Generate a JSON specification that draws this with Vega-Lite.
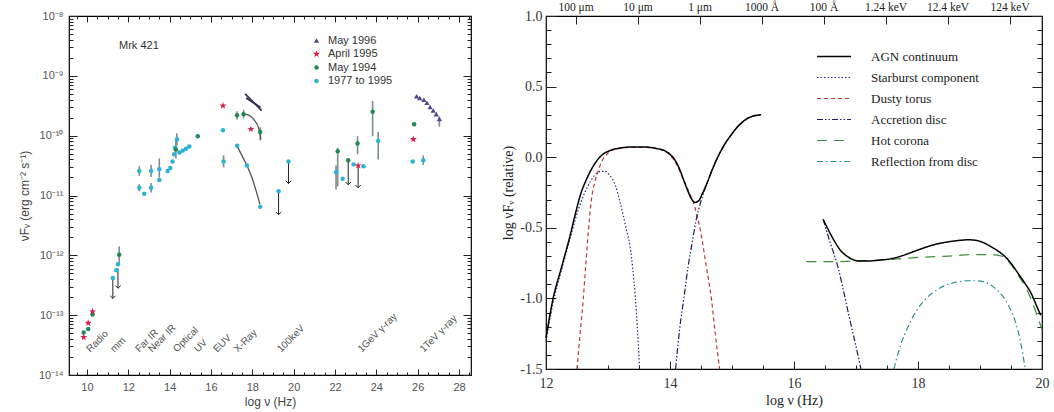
{
  "$schema": "https://vega.github.io/schema/vega-lite/v6.json",
  "background": "white",
  "padding": {"left": 17, "top": 0, "right": 2, "bottom": 2},
  "bounds": "flush",
  "spacing": 75,
  "config": {"view": {"stroke": "black", "strokeWidth": 1.2}},
  "datasets": {
    "pts": [
      {"series": "1977 to 1995", "lognu": 11.25, "logF": -12.38},
      {"series": "1977 to 1995", "lognu": 11.42, "logF": -12.25},
      {"series": "1977 to 1995", "lognu": 11.50, "logF": -12.15},
      {"series": "1977 to 1995", "lognu": 12.53, "logF": -10.59},
      {"series": "1977 to 1995", "lognu": 12.53, "logF": -10.87},
      {"series": "1977 to 1995", "lognu": 12.77, "logF": -10.97},
      {"series": "1977 to 1995", "lognu": 13.10, "logF": -10.59},
      {"series": "1977 to 1995", "lognu": 13.10, "logF": -10.87},
      {"series": "1977 to 1995", "lognu": 13.50, "logF": -10.56},
      {"series": "1977 to 1995", "lognu": 13.50, "logF": -10.74},
      {"series": "1977 to 1995", "lognu": 13.90, "logF": -10.59},
      {"series": "1977 to 1995", "lognu": 14.03, "logF": -10.54},
      {"series": "1977 to 1995", "lognu": 14.14, "logF": -10.43},
      {"series": "1977 to 1995", "lognu": 14.22, "logF": -10.31},
      {"series": "1977 to 1995", "lognu": 14.26, "logF": -10.20},
      {"series": "1977 to 1995", "lognu": 14.35, "logF": -10.06},
      {"series": "1977 to 1995", "lognu": 14.47, "logF": -10.28},
      {"series": "1977 to 1995", "lognu": 14.63, "logF": -10.25},
      {"series": "1977 to 1995", "lognu": 14.79, "logF": -10.22},
      {"series": "1977 to 1995", "lognu": 14.95, "logF": -10.18},
      {"series": "1977 to 1995", "lognu": 16.58, "logF": -9.91},
      {"series": "1977 to 1995", "lognu": 16.61, "logF": -10.43},
      {"series": "1977 to 1995", "lognu": 17.26, "logF": -10.17},
      {"series": "1977 to 1995", "lognu": 17.74, "logF": -10.50},
      {"series": "1977 to 1995", "lognu": 18.38, "logF": -11.19},
      {"series": "1977 to 1995", "lognu": 19.27, "logF": -10.93},
      {"series": "1977 to 1995", "lognu": 19.75, "logF": -10.43},
      {"series": "1977 to 1995", "lognu": 22.05, "logF": -10.61},
      {"series": "1977 to 1995", "lognu": 22.37, "logF": -10.72},
      {"series": "1977 to 1995", "lognu": 22.90, "logF": -10.48},
      {"series": "1977 to 1995", "lognu": 23.38, "logF": -10.51},
      {"series": "1977 to 1995", "lognu": 24.09, "logF": -10.09},
      {"series": "1977 to 1995", "lognu": 25.76, "logF": -10.43},
      {"series": "1977 to 1995", "lognu": 26.27, "logF": -10.41},
      {"series": "May 1994", "lognu": 9.84, "logF": -13.29},
      {"series": "May 1994", "lognu": 10.06, "logF": -13.23},
      {"series": "May 1994", "lognu": 10.27, "logF": -12.99},
      {"series": "May 1994", "lognu": 11.56, "logF": -11.99},
      {"series": "May 1994", "lognu": 14.30, "logF": -10.23},
      {"series": "May 1994", "lognu": 15.36, "logF": -10.01},
      {"series": "May 1994", "lognu": 17.26, "logF": -9.66},
      {"series": "May 1994", "lognu": 17.58, "logF": -9.64},
      {"series": "May 1994", "lognu": 18.38, "logF": -9.94},
      {"series": "May 1994", "lognu": 22.13, "logF": -10.26},
      {"series": "May 1994", "lognu": 22.64, "logF": -10.41},
      {"series": "May 1994", "lognu": 23.09, "logF": -10.13},
      {"series": "May 1994", "lognu": 23.82, "logF": -9.60},
      {"series": "May 1994", "lognu": 25.83, "logF": -9.81},
      {"series": "April 1995", "lognu": 9.84, "logF": -13.37},
      {"series": "April 1995", "lognu": 10.06, "logF": -13.13},
      {"series": "April 1995", "lognu": 10.27, "logF": -12.94},
      {"series": "April 1995", "lognu": 16.58, "logF": -9.50},
      {"series": "April 1995", "lognu": 17.93, "logF": -9.89},
      {"series": "April 1995", "lognu": 23.12, "logF": -10.50},
      {"series": "April 1995", "lognu": 25.79, "logF": -10.06},
      {"series": "May 1996", "lognu": 25.95, "logF": -9.34},
      {"series": "May 1996", "lognu": 26.10, "logF": -9.37},
      {"series": "May 1996", "lognu": 26.30, "logF": -9.40},
      {"series": "May 1996", "lognu": 26.45, "logF": -9.45},
      {"series": "May 1996", "lognu": 26.60, "logF": -9.52},
      {"series": "May 1996", "lognu": 26.75, "logF": -9.58},
      {"series": "May 1996", "lognu": 26.90, "logF": -9.64},
      {"series": "May 1996", "lognu": 27.05, "logF": -9.72}
    ],
    "err": [
      {"lognu": 11.56, "lo": -12.15, "hi": -11.85},
      {"lognu": 12.53, "lo": -10.67, "hi": -10.51},
      {"lognu": 12.53, "lo": -10.93, "hi": -10.81},
      {"lognu": 13.10, "lo": -10.69, "hi": -10.49},
      {"lognu": 13.10, "lo": -10.95, "hi": -10.79},
      {"lognu": 13.50, "lo": -10.70, "hi": -10.38},
      {"lognu": 14.35, "lo": -10.16, "hi": -9.96},
      {"lognu": 14.30, "lo": -10.38, "hi": -10.08},
      {"lognu": 16.61, "lo": -10.53, "hi": -10.33},
      {"lognu": 17.26, "lo": -9.73, "hi": -9.59},
      {"lognu": 17.58, "lo": -9.71, "hi": -9.57},
      {"lognu": 18.38, "lo": -10.08, "hi": -9.86},
      {"lognu": 22.13, "lo": -10.85, "hi": -10.20},
      {"lognu": 22.05, "lo": -10.90, "hi": -10.50},
      {"lognu": 23.09, "lo": -10.31, "hi": -10.01},
      {"lognu": 23.82, "lo": -10.01, "hi": -9.42},
      {"lognu": 24.09, "lo": -10.40, "hi": -9.94},
      {"lognu": 26.27, "lo": -10.49, "hi": -10.33},
      {"lognu": 27.05, "lo": -9.85, "hi": -9.68}
    ],
    "lim": [
      {"lognu": 11.25, "top": -12.38, "bot": -12.72},
      {"lognu": 11.50, "top": -12.22, "bot": -12.55},
      {"lognu": 19.27, "top": -10.93, "bot": -11.32},
      {"lognu": 19.75, "top": -10.43, "bot": -10.80},
      {"lognu": 22.64, "top": -10.41, "bot": -10.82},
      {"lognu": 23.12, "top": -10.50, "bot": -10.87}
    ],
    "curves": [
      {"g": "xc", "lognu": 17.26, "logF": -10.17},
      {"g": "xc", "lognu": 17.45, "logF": -10.30},
      {"g": "xc", "lognu": 17.74, "logF": -10.50},
      {"g": "xc", "lognu": 17.98, "logF": -10.70},
      {"g": "xc", "lognu": 18.19, "logF": -10.93},
      {"g": "xc", "lognu": 18.37, "logF": -11.15},
      {"g": "xg", "lognu": 17.58, "logF": -9.64},
      {"g": "xg", "lognu": 17.85, "logF": -9.66},
      {"g": "xg", "lognu": 18.09, "logF": -9.74},
      {"g": "xg", "lognu": 18.30, "logF": -9.87},
      {"g": "xg", "lognu": 18.42, "logF": -10.06}
    ],
    "bowtie": [
      {"g": "b1", "lognu": 17.65, "logF": -9.30},
      {"g": "b1", "lognu": 18.45, "logF": -9.58},
      {"g": "b2", "lognu": 17.70, "logF": -9.37},
      {"g": "b2", "lognu": 18.40, "logF": -9.53}
    ],
    "bands": [
      {"label": "Radio", "lognu": 10.16, "logF": -13.63},
      {"label": "mm", "lognu": 11.32, "logF": -13.63},
      {"label": "Far IR", "lognu": 12.53, "logF": -13.63},
      {"label": "Near IR", "lognu": 13.15, "logF": -13.63},
      {"label": "Optical", "lognu": 14.35, "logF": -13.63},
      {"label": "UV", "lognu": 15.37, "logF": -13.63},
      {"label": "EUV", "lognu": 16.30, "logF": -13.63},
      {"label": "X-Ray", "lognu": 17.30, "logF": -13.63},
      {"label": "100keV", "lognu": 19.39, "logF": -13.63},
      {"label": "1GeV γ-ray", "lognu": 23.29, "logF": -13.63},
      {"label": "1TeV γ-ray", "lognu": 26.29, "logF": -13.63}
    ],
    "notes": [
      {"label": "Mrk 421", "lognu": 11.55, "logF": -8.50}
    ],
    "sed": [
      {"comp": "Starburst component", "seg": "s", "lognu": 12.00, "val": -1.30},
      {"comp": "Starburst component", "seg": "s", "lognu": 12.11, "val": -1.04},
      {"comp": "Starburst component", "seg": "s", "lognu": 12.25, "val": -0.80},
      {"comp": "Starburst component", "seg": "s", "lognu": 12.38, "val": -0.59},
      {"comp": "Starburst component", "seg": "s", "lognu": 12.48, "val": -0.43},
      {"comp": "Starburst component", "seg": "s", "lognu": 12.58, "val": -0.30},
      {"comp": "Starburst component", "seg": "s", "lognu": 12.68, "val": -0.20},
      {"comp": "Starburst component", "seg": "s", "lognu": 12.78, "val": -0.13},
      {"comp": "Starburst component", "seg": "s", "lognu": 12.88, "val": -0.10},
      {"comp": "Starburst component", "seg": "s", "lognu": 12.95, "val": -0.10},
      {"comp": "Starburst component", "seg": "s", "lognu": 13.03, "val": -0.13},
      {"comp": "Starburst component", "seg": "s", "lognu": 13.12, "val": -0.20},
      {"comp": "Starburst component", "seg": "s", "lognu": 13.19, "val": -0.31},
      {"comp": "Starburst component", "seg": "s", "lognu": 13.28, "val": -0.48},
      {"comp": "Starburst component", "seg": "s", "lognu": 13.38, "val": -0.71},
      {"comp": "Starburst component", "seg": "s", "lognu": 13.46, "val": -1.11},
      {"comp": "Starburst component", "seg": "s", "lognu": 13.51, "val": -1.50},
      {"comp": "Dusty torus", "seg": "t", "lognu": 12.50, "val": -1.50},
      {"comp": "Dusty torus", "seg": "t", "lognu": 12.55, "val": -1.25},
      {"comp": "Dusty torus", "seg": "t", "lognu": 12.60, "val": -1.01},
      {"comp": "Dusty torus", "seg": "t", "lognu": 12.64, "val": -0.77},
      {"comp": "Dusty torus", "seg": "t", "lognu": 12.68, "val": -0.54},
      {"comp": "Dusty torus", "seg": "t", "lognu": 12.73, "val": -0.31},
      {"comp": "Dusty torus", "seg": "t", "lognu": 12.79, "val": -0.17},
      {"comp": "Dusty torus", "seg": "t", "lognu": 12.84, "val": -0.10},
      {"comp": "Dusty torus", "seg": "t", "lognu": 12.90, "val": -0.03},
      {"comp": "Dusty torus", "seg": "t", "lognu": 12.96, "val": 0.01},
      {"comp": "Dusty torus", "seg": "t", "lognu": 13.05, "val": 0.045},
      {"comp": "Dusty torus", "seg": "t", "lognu": 13.20, "val": 0.063},
      {"comp": "Dusty torus", "seg": "t", "lognu": 13.38, "val": 0.07},
      {"comp": "Dusty torus", "seg": "t", "lognu": 13.60, "val": 0.07},
      {"comp": "Dusty torus", "seg": "t", "lognu": 13.80, "val": 0.058},
      {"comp": "Dusty torus", "seg": "t", "lognu": 13.92, "val": 0.04},
      {"comp": "Dusty torus", "seg": "t", "lognu": 14.00, "val": 0.015},
      {"comp": "Dusty torus", "seg": "t", "lognu": 14.08, "val": -0.03},
      {"comp": "Dusty torus", "seg": "t", "lognu": 14.15, "val": -0.09},
      {"comp": "Dusty torus", "seg": "t", "lognu": 14.21, "val": -0.15},
      {"comp": "Dusty torus", "seg": "t", "lognu": 14.28, "val": -0.22},
      {"comp": "Dusty torus", "seg": "t", "lognu": 14.34, "val": -0.28},
      {"comp": "Dusty torus", "seg": "t", "lognu": 14.37, "val": -0.31},
      {"comp": "Dusty torus", "seg": "t", "lognu": 14.44, "val": -0.42},
      {"comp": "Dusty torus", "seg": "t", "lognu": 14.50, "val": -0.54},
      {"comp": "Dusty torus", "seg": "t", "lognu": 14.58, "val": -0.76},
      {"comp": "Dusty torus", "seg": "t", "lognu": 14.67, "val": -1.01},
      {"comp": "Dusty torus", "seg": "t", "lognu": 14.73, "val": -1.25},
      {"comp": "Dusty torus", "seg": "t", "lognu": 14.80, "val": -1.50},
      {"comp": "Accretion disc", "seg": "d1", "lognu": 14.09, "val": -1.50},
      {"comp": "Accretion disc", "seg": "d1", "lognu": 14.16, "val": -1.20},
      {"comp": "Accretion disc", "seg": "d1", "lognu": 14.23, "val": -0.98},
      {"comp": "Accretion disc", "seg": "d1", "lognu": 14.29, "val": -0.78},
      {"comp": "Accretion disc", "seg": "d1", "lognu": 14.36, "val": -0.60},
      {"comp": "Accretion disc", "seg": "d1", "lognu": 14.42, "val": -0.45},
      {"comp": "Accretion disc", "seg": "d1", "lognu": 14.50, "val": -0.31},
      {"comp": "Accretion disc", "seg": "d1", "lognu": 14.56, "val": -0.23},
      {"comp": "Accretion disc", "seg": "d1", "lognu": 14.62, "val": -0.16},
      {"comp": "Accretion disc", "seg": "d1", "lognu": 14.68, "val": -0.09},
      {"comp": "Accretion disc", "seg": "d1", "lognu": 14.77, "val": 0.0},
      {"comp": "Accretion disc", "seg": "d1", "lognu": 14.88, "val": 0.09},
      {"comp": "Accretion disc", "seg": "d1", "lognu": 14.99, "val": 0.16},
      {"comp": "Accretion disc", "seg": "d1", "lognu": 15.10, "val": 0.22},
      {"comp": "Accretion disc", "seg": "d1", "lognu": 15.20, "val": 0.26},
      {"comp": "Accretion disc", "seg": "d1", "lognu": 15.33, "val": 0.29},
      {"comp": "Accretion disc", "seg": "d1", "lognu": 15.47, "val": 0.30},
      {"comp": "Accretion disc", "seg": "d2", "lognu": 16.47, "val": -0.44},
      {"comp": "Accretion disc", "seg": "d2", "lognu": 16.58, "val": -0.60},
      {"comp": "Accretion disc", "seg": "d2", "lognu": 16.71, "val": -0.78},
      {"comp": "Accretion disc", "seg": "d2", "lognu": 16.80, "val": -0.95},
      {"comp": "Accretion disc", "seg": "d2", "lognu": 16.90, "val": -1.15},
      {"comp": "Accretion disc", "seg": "d2", "lognu": 16.99, "val": -1.32},
      {"comp": "Accretion disc", "seg": "d2", "lognu": 17.08, "val": -1.50},
      {"comp": "Hot corona", "seg": "c", "lognu": 16.20, "val": -0.74},
      {"comp": "Hot corona", "seg": "c", "lognu": 16.60, "val": -0.74},
      {"comp": "Hot corona", "seg": "c", "lognu": 17.00, "val": -0.735},
      {"comp": "Hot corona", "seg": "c", "lognu": 17.50, "val": -0.725},
      {"comp": "Hot corona", "seg": "c", "lognu": 18.00, "val": -0.71},
      {"comp": "Hot corona", "seg": "c", "lognu": 18.50, "val": -0.70},
      {"comp": "Hot corona", "seg": "c", "lognu": 18.90, "val": -0.69},
      {"comp": "Hot corona", "seg": "c", "lognu": 19.20, "val": -0.69},
      {"comp": "Hot corona", "seg": "c", "lognu": 19.34, "val": -0.70},
      {"comp": "Hot corona", "seg": "c", "lognu": 19.48, "val": -0.75},
      {"comp": "Hot corona", "seg": "c", "lognu": 19.61, "val": -0.83},
      {"comp": "Hot corona", "seg": "c", "lognu": 19.72, "val": -0.91},
      {"comp": "Hot corona", "seg": "c", "lognu": 19.82, "val": -1.00},
      {"comp": "Hot corona", "seg": "c", "lognu": 19.92, "val": -1.12},
      {"comp": "Hot corona", "seg": "c", "lognu": 20.00, "val": -1.22},
      {"comp": "Reflection from disc", "seg": "r", "lognu": 17.61, "val": -1.50},
      {"comp": "Reflection from disc", "seg": "r", "lognu": 17.72, "val": -1.33},
      {"comp": "Reflection from disc", "seg": "r", "lognu": 17.84, "val": -1.20},
      {"comp": "Reflection from disc", "seg": "r", "lognu": 17.97, "val": -1.09},
      {"comp": "Reflection from disc", "seg": "r", "lognu": 18.11, "val": -1.01},
      {"comp": "Reflection from disc", "seg": "r", "lognu": 18.27, "val": -0.95},
      {"comp": "Reflection from disc", "seg": "r", "lognu": 18.43, "val": -0.91},
      {"comp": "Reflection from disc", "seg": "r", "lognu": 18.62, "val": -0.885},
      {"comp": "Reflection from disc", "seg": "r", "lognu": 18.81, "val": -0.875},
      {"comp": "Reflection from disc", "seg": "r", "lognu": 18.95, "val": -0.875},
      {"comp": "Reflection from disc", "seg": "r", "lognu": 19.08, "val": -0.885},
      {"comp": "Reflection from disc", "seg": "r", "lognu": 19.22, "val": -0.92},
      {"comp": "Reflection from disc", "seg": "r", "lognu": 19.34, "val": -0.97},
      {"comp": "Reflection from disc", "seg": "r", "lognu": 19.46, "val": -1.05},
      {"comp": "Reflection from disc", "seg": "r", "lognu": 19.56, "val": -1.15},
      {"comp": "Reflection from disc", "seg": "r", "lognu": 19.65, "val": -1.30},
      {"comp": "Reflection from disc", "seg": "r", "lognu": 19.73, "val": -1.50},
      {"comp": "AGN continuum", "seg": "a1", "lognu": 12.00, "val": -1.28},
      {"comp": "AGN continuum", "seg": "a1", "lognu": 12.11, "val": -1.01},
      {"comp": "AGN continuum", "seg": "a1", "lognu": 12.25, "val": -0.78},
      {"comp": "AGN continuum", "seg": "a1", "lognu": 12.38, "val": -0.57},
      {"comp": "AGN continuum", "seg": "a1", "lognu": 12.48, "val": -0.39},
      {"comp": "AGN continuum", "seg": "a1", "lognu": 12.56, "val": -0.26},
      {"comp": "AGN continuum", "seg": "a1", "lognu": 12.65, "val": -0.16},
      {"comp": "AGN continuum", "seg": "a1", "lognu": 12.78, "val": -0.05},
      {"comp": "AGN continuum", "seg": "a1", "lognu": 12.89, "val": 0.01},
      {"comp": "AGN continuum", "seg": "a1", "lognu": 13.05, "val": 0.05},
      {"comp": "AGN continuum", "seg": "a1", "lognu": 13.20, "val": 0.065},
      {"comp": "AGN continuum", "seg": "a1", "lognu": 13.38, "val": 0.072},
      {"comp": "AGN continuum", "seg": "a1", "lognu": 13.60, "val": 0.072},
      {"comp": "AGN continuum", "seg": "a1", "lognu": 13.80, "val": 0.06},
      {"comp": "AGN continuum", "seg": "a1", "lognu": 13.92, "val": 0.045},
      {"comp": "AGN continuum", "seg": "a1", "lognu": 14.00, "val": 0.02},
      {"comp": "AGN continuum", "seg": "a1", "lognu": 14.08, "val": -0.02},
      {"comp": "AGN continuum", "seg": "a1", "lognu": 14.15, "val": -0.08},
      {"comp": "AGN continuum", "seg": "a1", "lognu": 14.21, "val": -0.15},
      {"comp": "AGN continuum", "seg": "a1", "lognu": 14.28, "val": -0.23},
      {"comp": "AGN continuum", "seg": "a1", "lognu": 14.34, "val": -0.29},
      {"comp": "AGN continuum", "seg": "a1", "lognu": 14.40, "val": -0.32},
      {"comp": "AGN continuum", "seg": "a1", "lognu": 14.46, "val": -0.31},
      {"comp": "AGN continuum", "seg": "a1", "lognu": 14.52, "val": -0.26},
      {"comp": "AGN continuum", "seg": "a1", "lognu": 14.60, "val": -0.18},
      {"comp": "AGN continuum", "seg": "a1", "lognu": 14.68, "val": -0.09},
      {"comp": "AGN continuum", "seg": "a1", "lognu": 14.77, "val": 0.0},
      {"comp": "AGN continuum", "seg": "a1", "lognu": 14.88, "val": 0.09},
      {"comp": "AGN continuum", "seg": "a1", "lognu": 14.99, "val": 0.16},
      {"comp": "AGN continuum", "seg": "a1", "lognu": 15.10, "val": 0.22},
      {"comp": "AGN continuum", "seg": "a1", "lognu": 15.20, "val": 0.26},
      {"comp": "AGN continuum", "seg": "a1", "lognu": 15.33, "val": 0.29},
      {"comp": "AGN continuum", "seg": "a1", "lognu": 15.47, "val": 0.30},
      {"comp": "AGN continuum", "seg": "a2", "lognu": 16.47, "val": -0.44},
      {"comp": "AGN continuum", "seg": "a2", "lognu": 16.56, "val": -0.52},
      {"comp": "AGN continuum", "seg": "a2", "lognu": 16.66, "val": -0.60},
      {"comp": "AGN continuum", "seg": "a2", "lognu": 16.75, "val": -0.66},
      {"comp": "AGN continuum", "seg": "a2", "lognu": 16.85, "val": -0.70},
      {"comp": "AGN continuum", "seg": "a2", "lognu": 16.95, "val": -0.725},
      {"comp": "AGN continuum", "seg": "a2", "lognu": 17.05, "val": -0.735},
      {"comp": "AGN continuum", "seg": "a2", "lognu": 17.20, "val": -0.735},
      {"comp": "AGN continuum", "seg": "a2", "lognu": 17.35, "val": -0.73},
      {"comp": "AGN continuum", "seg": "a2", "lognu": 17.55, "val": -0.72},
      {"comp": "AGN continuum", "seg": "a2", "lognu": 17.73, "val": -0.70},
      {"comp": "AGN continuum", "seg": "a2", "lognu": 17.92, "val": -0.67},
      {"comp": "AGN continuum", "seg": "a2", "lognu": 18.11, "val": -0.64},
      {"comp": "AGN continuum", "seg": "a2", "lognu": 18.30, "val": -0.615},
      {"comp": "AGN continuum", "seg": "a2", "lognu": 18.48, "val": -0.60},
      {"comp": "AGN continuum", "seg": "a2", "lognu": 18.65, "val": -0.59},
      {"comp": "AGN continuum", "seg": "a2", "lognu": 18.81, "val": -0.585},
      {"comp": "AGN continuum", "seg": "a2", "lognu": 18.95, "val": -0.59},
      {"comp": "AGN continuum", "seg": "a2", "lognu": 19.08, "val": -0.61},
      {"comp": "AGN continuum", "seg": "a2", "lognu": 19.20, "val": -0.64},
      {"comp": "AGN continuum", "seg": "a2", "lognu": 19.34, "val": -0.68},
      {"comp": "AGN continuum", "seg": "a2", "lognu": 19.48, "val": -0.74},
      {"comp": "AGN continuum", "seg": "a2", "lognu": 19.61, "val": -0.82},
      {"comp": "AGN continuum", "seg": "a2", "lognu": 19.72, "val": -0.89},
      {"comp": "AGN continuum", "seg": "a2", "lognu": 19.82, "val": -0.96},
      {"comp": "AGN continuum", "seg": "a2", "lognu": 19.92, "val": -1.06},
      {"comp": "AGN continuum", "seg": "a2", "lognu": 19.98, "val": -1.12}
    ]
  },
  "resolve": {
    "scale": {"color": "independent", "shape": "independent", "size": "independent", "strokeDash": "independent", "strokeWidth": "independent"},
    "legend": {"color": "independent", "shape": "independent", "size": "independent", "strokeDash": "independent", "strokeWidth": "independent"}
  },
  "hconcat": [
    {
      "width": 402,
      "height": 359,
      "resolve": {"axis": {"x": "independent", "y": "independent"}},
      "layer": [
        {
          "data": {"name": "err"},
          "mark": {"type": "rule", "color": "#7d8c8c", "strokeWidth": 1.6},
          "encoding": {
            "x": {"field": "lognu", "type": "quantitative", "scale": {"domain": [9.13, 28.58], "nice": false, "zero": false},
              "axis": {"orient": "bottom", "values": [10, 12, 14, 16, 18, 20, 22, 24, 26, 28], "tickSize": -6, "tickColor": "#222", "labelPadding": 12, "labelFlush": false, "domain": false, "grid": false,
                "labelFont": "Liberation Sans", "labelFontSize": 11, "labelColor": "#555", "title": "log ν (Hz)", "titleFont": "Liberation Sans", "titleFontSize": 12, "titleFontWeight": "normal", "titleColor": "#444", "titlePadding": 4}},
            "y": {"field": "lo", "type": "quantitative", "scale": {"domain": [-14, -8], "nice": false, "zero": false},
              "axis": {"orient": "left", "values": [-14, -13, -12, -11, -10, -9, -8], "tickSize": -8, "tickColor": "#222", "labelPadding": 14, "domain": false, "grid": false,
                "labelExpr": "datum.value == -14 ? '10⁻¹⁴' : datum.value == -13 ? '10⁻¹³' : datum.value == -12 ? '10⁻¹²' : datum.value == -11 ? '10⁻¹¹' : datum.value == -10 ? '10⁻¹⁰' : datum.value == -9 ? '10⁻⁹' : '10⁻⁸'",
                "labelFont": "Liberation Sans", "labelFontSize": 11, "labelColor": "#555", "title": "νFᵥ (erg cm⁻² s⁻¹)", "titleFont": "Liberation Sans", "titleFontSize": 12, "titleFontWeight": "normal", "titleColor": "#444", "titlePadding": 7}},
            "y2": {"field": "hi"}
          }
        },
        {
          "data": {"name": "lim"},
          "mark": {"type": "rule", "color": "#222", "strokeWidth": 1},
          "encoding": {
            "x": {"field": "lognu", "type": "quantitative", "scale": {"domain": [9.13, 28.58], "nice": false, "zero": false},
              "axis": {"orient": "bottom", "values": [9.5, 10.5, 11, 11.5, 12.5, 13, 13.5, 14.5, 15, 15.5, 16.5, 17, 17.5, 18.5, 19, 19.5, 20.5, 21, 21.5, 22.5, 23, 23.5, 24.5, 25, 25.5, 26.5, 27, 27.5, 28.5], "tickSize": -3, "tickColor": "#222", "labels": false, "domain": false, "grid": false, "title": null}},
            "y": {"field": "top", "type": "quantitative", "scale": {"domain": [-14, -8], "nice": false, "zero": false},
              "axis": {"orient": "left", "values": [-13.699, -13.523, -13.398, -13.301, -13.222, -13.155, -13.097, -13.046, -12.699, -12.523, -12.398, -12.301, -12.222, -12.155, -12.097, -12.046, -11.699, -11.523, -11.398, -11.301, -11.222, -11.155, -11.097, -11.046, -10.699, -10.523, -10.398, -10.301, -10.222, -10.155, -10.097, -10.046, -9.699, -9.523, -9.398, -9.301, -9.222, -9.155, -9.097, -9.046, -8.699, -8.523, -8.398, -8.301, -8.222, -8.155, -8.097, -8.046], "tickSize": -4, "tickColor": "#222", "labels": false, "domain": false, "grid": false, "title": null}},
            "y2": {"field": "bot"}
          }
        },
        {
          "data": {"name": "lim"},
          "mark": {"type": "point", "shape": "M-1,-1L0,0L1,-1", "filled": false, "stroke": "#222", "strokeWidth": 1, "size": 30, "opacity": 1},
          "encoding": {
            "x": {"field": "lognu", "type": "quantitative", "scale": {"domain": [9.13, 28.58], "nice": false, "zero": false},
              "axis": {"orient": "top", "values": [10, 12, 14, 16, 18, 20, 22, 24, 26, 28], "tickSize": -6, "tickColor": "#222", "labels": false, "domain": false, "grid": false, "title": null}},
            "y": {"field": "bot", "type": "quantitative", "scale": {"domain": [-14, -8], "nice": false, "zero": false},
              "axis": {"orient": "right", "values": [-14, -13, -12, -11, -10, -9, -8], "tickSize": -8, "tickColor": "#222", "labels": false, "domain": false, "grid": false, "title": null}}
          }
        },
        {
          "data": {"name": "curves"},
          "mark": {"type": "line", "color": "#555", "strokeWidth": 1.3, "interpolate": "monotone"},
          "encoding": {
            "x": {"field": "lognu", "type": "quantitative", "scale": {"domain": [9.13, 28.58], "nice": false, "zero": false},
              "axis": {"orient": "top", "values": [9.5, 10.5, 11, 11.5, 12.5, 13, 13.5, 14.5, 15, 15.5, 16.5, 17, 17.5, 18.5, 19, 19.5, 20.5, 21, 21.5, 22.5, 23, 23.5, 24.5, 25, 25.5, 26.5, 27, 27.5, 28.5], "tickSize": -3, "tickColor": "#222", "labels": false, "domain": false, "grid": false, "title": null}},
            "y": {"field": "logF", "type": "quantitative", "scale": {"domain": [-14, -8], "nice": false, "zero": false},
              "axis": {"orient": "right", "values": [-13.699, -13.523, -13.398, -13.301, -13.222, -13.155, -13.097, -13.046, -12.699, -12.523, -12.398, -12.301, -12.222, -12.155, -12.097, -12.046, -11.699, -11.523, -11.398, -11.301, -11.222, -11.155, -11.097, -11.046, -10.699, -10.523, -10.398, -10.301, -10.222, -10.155, -10.097, -10.046, -9.699, -9.523, -9.398, -9.301, -9.222, -9.155, -9.097, -9.046, -8.699, -8.523, -8.398, -8.301, -8.222, -8.155, -8.097, -8.046], "tickSize": -4, "tickColor": "#222", "labels": false, "domain": false, "grid": false, "title": null}},
            "detail": {"field": "g", "type": "nominal"}
          }
        },
        {
          "data": {"name": "bowtie"},
          "mark": {"type": "line", "color": "#34345a", "strokeWidth": 1.8},
          "encoding": {
            "x": {"field": "lognu", "type": "quantitative", "scale": {"domain": [9.13, 28.58], "nice": false, "zero": false}, "axis": null},
            "y": {"field": "logF", "type": "quantitative", "scale": {"domain": [-14, -8], "nice": false, "zero": false}, "axis": null},
            "detail": {"field": "g", "type": "nominal"}
          }
        },
        {
          "data": {"name": "pts"},
          "mark": {"type": "point", "filled": true, "opacity": 1},
          "encoding": {
            "x": {"field": "lognu", "type": "quantitative", "scale": {"domain": [9.13, 28.58], "nice": false, "zero": false}, "axis": null},
            "y": {"field": "logF", "type": "quantitative", "scale": {"domain": [-14, -8], "nice": false, "zero": false}, "axis": null},
            "color": {"field": "series", "type": "nominal",
              "scale": {"domain": ["May 1996", "April 1995", "May 1994", "1977 to 1995"], "range": ["#4a4a8c", "#d81e4a", "#1f8a55", "#2bb3d6"]},
              "legend": {"title": null, "orient": "none", "legendX": 242, "legendY": 19, "labelFont": "Liberation Sans", "labelFontSize": 11, "labelColor": "#333", "rowPadding": 1.5, "labelOffset": 6, "symbolSize": 28}},
            "shape": {"field": "series", "type": "nominal",
              "scale": {"domain": ["May 1996", "April 1995", "May 1994", "1977 to 1995"], "range": ["triangle-up", "M0,-1L0.235,-0.324L0.951,-0.309L0.38,0.124L0.588,0.809L0,0.4L-0.588,0.809L-0.38,0.124L-0.951,-0.309L-0.235,-0.324Z", "circle", "circle"]},
              "legend": {"title": null, "orient": "none", "legendX": 242, "legendY": 19, "labelFont": "Liberation Sans", "labelFontSize": 11, "labelColor": "#333", "rowPadding": 1.5, "labelOffset": 6, "symbolSize": 28}},
            "size": {"field": "series", "type": "nominal",
              "scale": {"type": "ordinal", "domain": ["May 1996", "April 1995", "May 1994", "1977 to 1995"], "range": [28, 55, 20, 20]},
              "legend": null}
          }
        },
        {
          "data": {"name": "bands"},
          "mark": {"type": "text", "angle": 315, "align": "left", "baseline": "alphabetic", "font": "Liberation Sans", "fontSize": 10, "color": "#555"},
          "encoding": {
            "x": {"field": "lognu", "type": "quantitative", "scale": {"domain": [9.13, 28.58], "nice": false, "zero": false}, "axis": null},
            "y": {"field": "logF", "type": "quantitative", "scale": {"domain": [-14, -8], "nice": false, "zero": false}, "axis": null},
            "text": {"field": "label", "type": "nominal"}
          }
        },
        {
          "data": {"name": "notes"},
          "mark": {"type": "text", "align": "left", "baseline": "middle", "font": "Liberation Sans", "fontSize": 11, "color": "#333"},
          "encoding": {
            "x": {"field": "lognu", "type": "quantitative", "scale": {"domain": [9.13, 28.58], "nice": false, "zero": false}, "axis": null},
            "y": {"field": "logF", "type": "quantitative", "scale": {"domain": [-14, -8], "nice": false, "zero": false}, "axis": null},
            "text": {"field": "label", "type": "nominal"}
          }
        }
      ]
    },
    {
      "width": 496,
      "height": 353,
      "resolve": {"axis": {"x": "independent", "y": "independent"}},
      "layer": [
        {
          "data": {"name": "sed"},
          "mark": {"type": "line", "interpolate": "monotone"},
          "encoding": {
            "x": {"field": "lognu", "type": "quantitative", "scale": {"domain": [12, 20], "nice": false, "zero": false},
              "axis": {"orient": "bottom", "values": [12, 14, 16, 18, 20], "tickSize": -8, "tickColor": "#222", "labelPadding": 15, "labelFlush": false, "domain": false, "grid": false,
                "labelFont": "Liberation Serif", "labelFontSize": 14, "labelColor": "#333", "title": "log ν (Hz)", "titleFont": "Liberation Serif", "titleFontSize": 14, "titleFontWeight": "normal", "titleColor": "#222", "titlePadding": 3}},
            "y": {"field": "val", "type": "quantitative", "scale": {"domain": [-1.5, 1.0], "nice": false, "zero": false},
              "axis": {"orient": "left", "values": [-1.5, -1, -0.5, 0, 0.5, 1], "tickSize": -10, "tickColor": "#222", "labelPadding": 14, "labelFlush": false, "domain": false, "grid": false,
                "labelExpr": "(datum.value < 0 ? '-' : '') + format(abs(datum.value), '.1f')",
                "labelFont": "Liberation Serif", "labelFontSize": 14, "labelColor": "#333", "title": "log νFᵥ (relative)", "titleFont": "Liberation Serif", "titleFontSize": 14, "titleFontWeight": "normal", "titleColor": "#222", "titlePadding": 4}},
            "detail": {"field": "seg", "type": "nominal"},
            "color": {"field": "comp", "type": "nominal",
              "scale": {"domain": ["AGN continuum", "Starburst component", "Dusty torus", "Accretion disc", "Hot corona", "Reflection from disc"], "range": ["#000000", "#2b2b7a", "#b83a3a", "#1f1f5f", "#3d8f3d", "#2f8f8f"]},
              "legend": {"title": null, "orient": "none", "legendX": 270, "legendY": 33, "labelFont": "Liberation Serif", "labelFontSize": 13, "labelColor": "#222", "labelOffset": 19, "rowPadding": 6, "symbolSize": 1150, "clipHeight": 15, "symbolStrokeWidth": 1.3}},
            "strokeDash": {"field": "comp", "type": "nominal",
              "scale": {"domain": ["AGN continuum", "Starburst component", "Dusty torus", "Accretion disc", "Hot corona", "Reflection from disc"], "range": [[1, 0], [1.5, 2], [4, 3], [6, 2, 1.5, 2, 1.5, 2], [10, 7], [6, 3, 1.5, 3]]},
              "legend": {"title": null, "orient": "none", "legendX": 270, "legendY": 33, "labelFont": "Liberation Serif", "labelFontSize": 13, "labelColor": "#222", "labelOffset": 19, "rowPadding": 6, "symbolSize": 1150, "clipHeight": 15, "symbolStrokeWidth": 1.3}},
            "strokeWidth": {"field": "comp", "type": "nominal",
              "scale": {"type": "ordinal", "domain": ["AGN continuum", "Starburst component", "Dusty torus", "Accretion disc", "Hot corona", "Reflection from disc"], "range": [1.5, 1.2, 1.2, 1.2, 1.2, 1.2]},
              "legend": null}
          }
        },
        {
          "data": {"values": []},
          "mark": {"type": "point", "opacity": 0},
          "encoding": {
            "x": {"field": "lognu", "type": "quantitative", "scale": {"domain": [12, 20], "nice": false, "zero": false},
              "axis": {"orient": "bottom", "values": [12.5, 13, 13.5, 14.5, 15, 15.5, 16.5, 17, 17.5, 18.5, 19, 19.5], "tickSize": -4, "tickColor": "#222", "labels": false, "domain": false, "grid": false, "title": null}},
            "y": {"field": "val", "type": "quantitative", "scale": {"domain": [-1.5, 1.0], "nice": false, "zero": false},
              "axis": {"orient": "left", "values": [-1.4, -1.3, -1.2, -1.1, -0.9, -0.8, -0.7, -0.6, -0.4, -0.3, -0.2, -0.1, 0.1, 0.2, 0.3, 0.4, 0.6, 0.7, 0.8, 0.9], "tickSize": -5, "tickColor": "#222", "labels": false, "domain": false, "grid": false, "title": null}}
          }
        },
        {
          "data": {"values": []},
          "mark": {"type": "point", "opacity": 0},
          "encoding": {
            "x": {"field": "lognu", "type": "quantitative", "scale": {"domain": [12, 20], "nice": false, "zero": false},
              "axis": {"orient": "top", "values": [12.477, 13.477, 14.477, 15.477, 16.477, 17.477, 18.477, 19.477], "tickSize": -8, "tickColor": "#222", "labelPadding": 12, "labelFlush": false, "domain": false, "grid": false,
                "labelExpr": "datum.value < 13 ? '100 μm' : datum.value < 14 ? '10 μm' : datum.value < 15 ? '1 μm' : datum.value < 16 ? '1000 Å' : datum.value < 17 ? '100 Å' : datum.value < 18 ? '1.24 keV' : datum.value < 19 ? '12.4 keV' : '124 keV'",
                "labelFont": "Liberation Serif", "labelFontSize": 11.5, "labelColor": "#222", "labelOverlap": false, "title": null}},
            "y": {"field": "val", "type": "quantitative", "scale": {"domain": [-1.5, 1.0], "nice": false, "zero": false},
              "axis": {"orient": "right", "values": [-1.5, -1, -0.5, 0, 0.5, 1], "tickSize": -10, "tickColor": "#222", "labels": false, "domain": false, "grid": false, "title": null}}
          }
        },
        {
          "data": {"values": []},
          "mark": {"type": "point", "opacity": 0},
          "encoding": {
            "x": {"field": "lognu", "type": "quantitative", "scale": {"domain": [12, 20], "nice": false, "zero": false}, "axis": null},
            "y": {"field": "val", "type": "quantitative", "scale": {"domain": [-1.5, 1.0], "nice": false, "zero": false},
              "axis": {"orient": "right", "values": [-1.4, -1.3, -1.2, -1.1, -0.9, -0.8, -0.7, -0.6, -0.4, -0.3, -0.2, -0.1, 0.1, 0.2, 0.3, 0.4, 0.6, 0.7, 0.8, 0.9], "tickSize": -5, "tickColor": "#222", "labels": false, "domain": false, "grid": false, "title": null}}
          }
        }
      ]
    }
  ]
}
